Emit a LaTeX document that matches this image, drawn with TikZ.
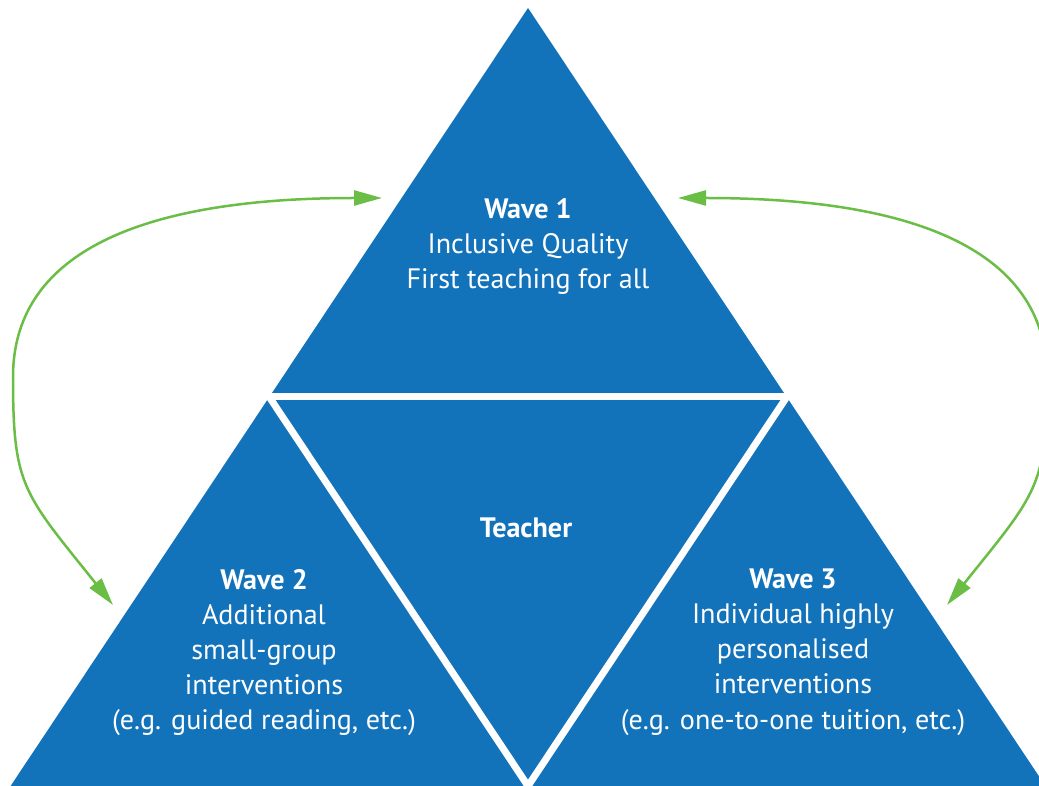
\documentclass[tikz,border=0pt]{standalone}
\usepackage{fontspec}
\setmainfont{PT Sans}
\usetikzlibrary{arrows.meta}
\definecolor{waveblue}{RGB}{18,114,186}
\definecolor{wavegreen}{RGB}{106,189,69}
\tikzset{
  wedge/.style={fill=waveblue, draw=none},
  gapline/.style={line width=0.14cm, draw=white, line cap=butt, shorten <=-0.3cm, shorten >=-0.3cm},
  wavelabel/.style={text=white, align=center, font=\fontsize{16}{20}\selectfont},
  cyclearrow/.style={line width=0.05cm, draw=wavegreen, {Triangle[length=0.56cm,width=0.3cm]}-{Triangle[length=0.56cm,width=0.3cm]}},
}
\begin{document}
\begin{tikzpicture}
\useasboundingbox (0,0) rectangle (20.78,15.70);
\coordinate (apex) at (10.560,15.540);
\coordinate (bl) at (0.212,-0.020);
\coordinate (br) at (20.908,-0.020);
\coordinate (lm) at (5.386,7.760);
\coordinate (rm) at (15.734,7.760);
\coordinate (bm) at (10.560,-0.020);
\fill[wedge] (apex) -- (bl) -- (br) -- cycle;
\draw[gapline] (lm) -- (rm);
\draw[gapline] (lm) -- (bm);
\draw[gapline] (rm) -- (bm);
\node[wavelabel] (wave1) at (10.560,10.770) {\textbf{Wave 1}\\Inclusive Quality\\First teaching for all};
\node[wavelabel] (teacher) at (10.520,5.150) {\textbf{Teacher}};
\node[wavelabel] (wave2) at (5.280,2.650) {\textbf{Wave 2}\\Additional\\small-group\\interventions\\(e.g. guided reading, etc.)};
\node[wavelabel] (wave3) at (15.860,2.660) {\textbf{Wave 3}\\Individual highly\\personalised\\interventions\\(e.g. one-to-one tuition, etc.)};
\coordinate (w1left) at (7.640,11.740);
\coordinate (w1right) at (13.560,11.740);
\coordinate (w2top) at (2.260,3.600);
\coordinate (w3top) at (18.940,3.600);
\coordinate (farleft) at (0.260,8.160);
\coordinate (farright) at (20.940,8.160);
\draw[cyclearrow] (w1left) .. controls (2.640,11.740) and (0.260,10.560) .. (farleft) .. controls (0.260,5.960) and (0.460,5.850) .. (w2top);
\draw[cyclearrow] (w1right) .. controls (18.560,11.740) and (20.940,10.560) .. (farright) .. controls (20.940,5.960) and (20.740,5.850) .. (w3top);
\end{tikzpicture}
\end{document}
